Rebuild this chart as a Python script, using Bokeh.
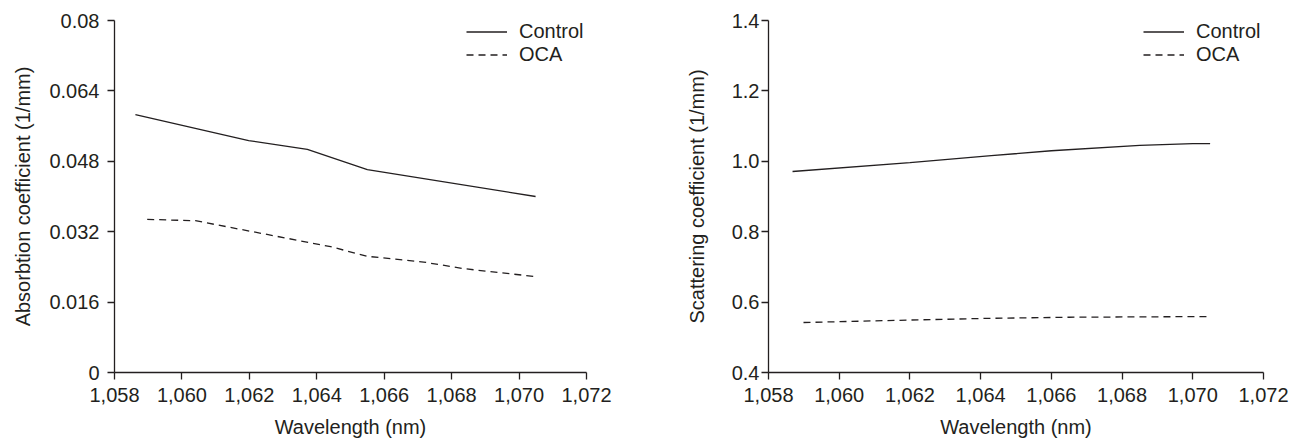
from bokeh.plotting import figure
from bokeh.models import Range1d, FixedTicker, Legend, LegendItem
from bokeh.layouts import row
from bokeh.embed import file_html
from bokeh.resources import INLINE

# ---- data ----
wl_ctrl_abs = [1058.62, 1061.98, 1063.72, 1065.50, 1070.49]
abs_ctrl = [0.0586, 0.0527, 0.0507, 0.0461, 0.0400]
wl_oca_abs = [1058.97, 1060.40, 1064.41, 1065.50, 1067.17, 1068.36, 1070.49]
abs_oca = [0.0348, 0.0345, 0.0286, 0.0264, 0.0251, 0.0236, 0.0218]

wl_ctrl_sca = [1058.68, 1062.0, 1064.3, 1066.0, 1068.5, 1070.0, 1070.49]
sca_ctrl = [0.971, 0.996, 1.016, 1.030, 1.045, 1.050, 1.050]
wl_oca_sca = [1058.99, 1062.0, 1064.3, 1066.5, 1070.49]
sca_oca = [0.542, 0.549, 0.554, 0.557, 0.559]

x_ticks = [1058, 1060, 1062, 1064, 1066, 1068, 1070, 1072]
x_tick_labels = ["1,058", "1,060", "1,062", "1,064", "1,066", "1,068", "1,070", "1,072"]
abs_ticks = [0, 0.016, 0.032, 0.048, 0.064, 0.08]
abs_tick_labels = ["0", "0.016", "0.032", "0.048", "0.064", "0.08"]
sca_ticks = [0.4, 0.6, 0.8, 1.0, 1.2, 1.4]
sca_tick_labels = ["0.4", "0.6", "0.8", "1.0", "1.2", "1.4"]

series_labels = ["Control", "OCA"]
x_label = "Wavelength (nm)"
y_label_abs = "Absorbtion coefficient (1/mm)"
y_label_sca = "Scattering coefficient (1/mm)"

INK = "#231F20"
FONT = "Liberation Sans"
FS = "20px"


def make_plot(width, border_left, border_right, y_range, y_ticks, y_tick_labels,
              y_label, xs, ys, legend_loc, y_standoff, y_label_standoff):
    p = figure(width=width, height=440, output_backend="svg", toolbar_location=None,
               x_range=Range1d(1058, 1072), y_range=Range1d(*y_range),
               min_border_left=border_left, min_border_right=border_right,
               min_border_top=20, min_border_bottom=68)
    p.outline_line_color = None
    p.grid.visible = False
    p.background_fill_color = "white"
    p.border_fill_color = "white"

    renderers = []
    for (x, y), dash in zip(zip(xs, ys), ["solid", "7 5"]):
        r = p.line(x, y, line_color=INK, line_width=1.3, line_dash=dash)
        renderers.append(r)

    p.xaxis.ticker = FixedTicker(ticks=x_ticks)
    p.xaxis.major_label_overrides = dict(zip(x_ticks, x_tick_labels))
    p.yaxis.ticker = FixedTicker(ticks=y_ticks)
    p.yaxis.major_label_overrides = dict(zip(y_ticks, y_tick_labels))

    for ax in (p.xaxis, p.yaxis):
        ax.axis_line_color = INK
        ax.axis_line_width = 1.3
        ax.major_tick_line_color = INK
        ax.major_tick_line_width = 1.3
        ax.major_tick_in = 0
        ax.major_tick_out = 7
        ax.minor_tick_line_color = None
        ax.major_label_text_font = FONT
        ax.major_label_text_font_size = FS
        ax.major_label_text_color = INK
        ax.axis_label_text_font = FONT
        ax.axis_label_text_font_size = FS
        ax.axis_label_text_color = INK
        ax.axis_label_text_font_style = "normal"

    p.xaxis.axis_label = x_label
    p.xaxis.major_label_standoff = 8
    p.xaxis.axis_label_standoff = 11
    p.yaxis.axis_label = y_label
    p.yaxis.major_label_standoff = y_standoff
    p.yaxis.axis_label_standoff = y_label_standoff

    legend = Legend(items=[LegendItem(label=lab, renderers=[r])
                           for lab, r in zip(series_labels, renderers)],
                    location=legend_loc, padding=0, margin=0, spacing=0,
                    glyph_width=41, glyph_height=23, label_height=23,
                    label_width=80, label_standoff=12, border_line_color=None,
                    background_fill_alpha=0,
                    label_text_font=FONT, label_text_font_size=FS,
                    label_text_color=INK)
    p.add_layout(legend)
    return p


p1 = make_plot(640, 114, 54, (0, 0.08), abs_ticks, abs_tick_labels, y_label_abs,
               [wl_ctrl_abs, wl_oca_abs], [abs_ctrl, abs_oca], (352, 306), 8, 12)
p2 = make_plot(653, 128, 30, (0.4, 1.4), sca_ticks, sca_tick_labels, y_label_sca,
               [wl_ctrl_sca, wl_oca_sca], [sca_ctrl, sca_oca], (375, 306), 2, 21)

layout = row(p1, p2)
open("out.html", "w").write(file_html(layout, INLINE))
